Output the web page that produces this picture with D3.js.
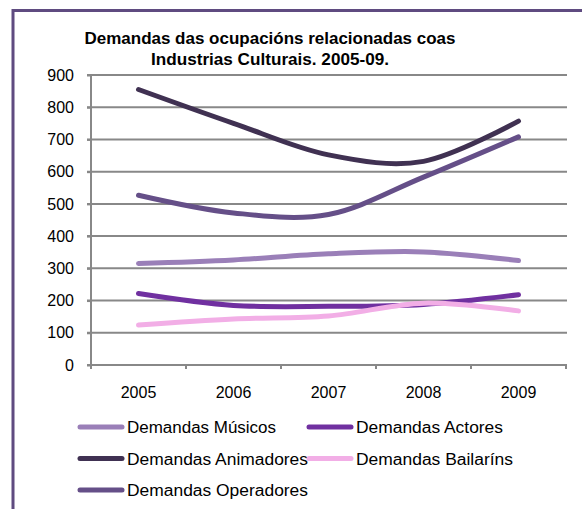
<!DOCTYPE html>
<html><head><meta charset="utf-8">
<script src="https://cdn.jsdelivr.net/npm/d3@7"></script>
<style>body{margin:0;background:#fff}svg{display:block;font-family:"Liberation Sans",Arial,sans-serif}</style>
</head><body><svg id="c" width="582" height="509"></svg>
<script>
const years = ["2005","2006","2007","2008","2009"];
const musicos    = [315, 326, 345, 351, 324];
const actores    = [222, 185, 182, 188, 218];
const animadores = [855, 750, 652, 632, 757];
const bailarins  = [124, 143, 152, 192, 168];
const operadores = [527, 472, 467, 583, 708];
const yTicks = [0,100,200,300,400,500,600,700,800,900];
const seriesNames = ["Demandas Músicos","Demandas Actores","Demandas Animadores","Demandas Bailaríns","Demandas Operadores"];
const seriesColors = ["#9a7fb8","#7030a0","#403152","#f2aee6","#654f88"];
const seriesData = [musicos, actores, animadores, bailarins, operadores];
const titleLines = ["Demandas das ocupacións relacionadas coas","Industrias Culturais. 2005-09."];

const svg = d3.select("#c");
const FONT = "'Liberation Sans', Arial, sans-serif";
// frame
svg.append("rect").attr("x",13).attr("y",10.5).attr("width",600).attr("height",520)
  .attr("fill","none").attr("stroke","#5f4b80").attr("stroke-width",3);

const x = d3.scaleBand().domain(years).range([91,566]);
const y = d3.scaleLinear().domain([0,900]).range([365,75]);
const grid = "#888888";

// gridlines
svg.append("g").selectAll("line").data(yTicks.filter(d=>d>0)).join("line")
  .attr("x1",87).attr("x2",567).attr("y1",d=>y(d)).attr("y2",d=>y(d))
  .attr("stroke",grid).attr("stroke-width",2);

// y axis
const ya = svg.append("g").attr("transform","translate(91,0)")
  .call(d3.axisLeft(y).tickValues(yTicks).tickSize(4).tickPadding(13));
ya.select(".domain").attr("stroke",grid).attr("stroke-width",2).attr("d","M0,75V365");
ya.selectAll(".tick line").attr("stroke",grid).attr("stroke-width",2);
ya.selectAll("text").attr("font-size",16).attr("fill","#000").attr("font-family",FONT);

// x axis
const xa = svg.append("g").attr("transform","translate(0,365)")
  .call(d3.axisBottom(x).tickSize(0).tickPadding(22));
xa.select(".domain").attr("stroke",grid).attr("stroke-width",2).attr("d","M87,0H567");
xa.selectAll("text").attr("font-size",16).attr("fill","#000").attr("font-family",FONT);
svg.append("g").selectAll("line").data(years.concat(["end"])).join("line")
  .attr("x1",(d,i)=>x.range()[0]+i*x.step()).attr("x2",(d,i)=>x.range()[0]+i*x.step())
  .attr("y1",365).attr("y2",369).attr("stroke",grid).attr("stroke-width",2);

// lines
const line = d3.line().x((d,i)=>x(years[i])+x.bandwidth()/2).y(d=>y(d))
  .curve(d3.curveCardinal.tension(0));
svg.append("g").selectAll("path").data(seriesData).join("path")
  .attr("d",line).attr("fill","none").attr("stroke",(d,i)=>seriesColors[i])
  .attr("stroke-width",5).attr("stroke-linecap","round").attr("stroke-linejoin","round");

// title
svg.append("g").selectAll("text").data(titleLines).join("text")
  .attr("x",270).attr("y",(d,i)=>44+i*20.5).attr("text-anchor","middle")
  .attr("font-size",17).attr("font-weight","bold").attr("fill","#000").attr("font-family",FONT)
  .attr("textLength",(d,i)=>[371,238][i]).attr("lengthAdjust","spacingAndGlyphs")
  .text(d=>d);

// legend
const legPos = [[78,427],[307,427],[78,458.5],[307,458.5],[78,490]];
const legW = [149,147,181,157,181];
const lg = svg.append("g").selectAll("g").data(seriesNames).join("g")
  .attr("transform",(d,i)=>`translate(${legPos[i][0]},${legPos[i][1]})`);
lg.append("line").attr("x1",2).attr("x2",44).attr("y1",0).attr("y2",0)
  .attr("stroke",(d,i)=>seriesColors[i]).attr("stroke-width",5).attr("stroke-linecap","round");
lg.append("text").attr("x",49).attr("y",6).attr("font-size",16).attr("fill","#000").attr("font-family",FONT)
  .attr("textLength",(d,i)=>legW[i]).attr("lengthAdjust","spacingAndGlyphs").text(d=>d);
</script></body></html>
